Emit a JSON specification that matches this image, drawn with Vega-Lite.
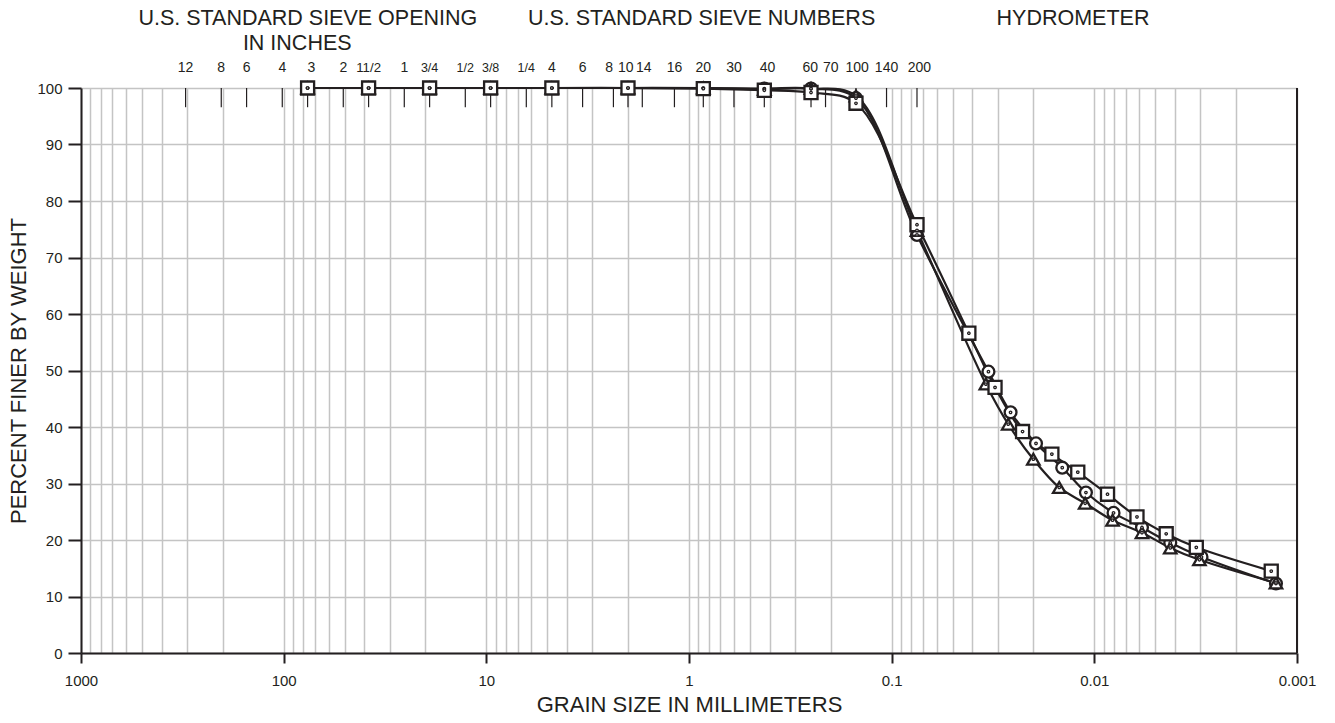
{
  "$schema": "https://vega.github.io/schema/vega-lite/v6.json",
  "width": 1216,
  "height": 565,
  "autosize": {"type": "none"},
  "padding": {"left": 81, "top": 88, "right": 38, "bottom": 70},
  "background": "white",
  "config": {"font": "Liberation Sans", "view": {"stroke": null}},
  "resolve": {"scale": {"size": "independent", "shape": "independent"}},
  "datasets": {
    "series": [
      {"s": "A", "d": 76.2, "p": 100}, {"s": "A", "d": 38.1, "p": 100}, {"s": "A", "d": 19.05, "p": 100}, {"s": "A", "d": 9.525, "p": 100}, {"s": "A", "d": 4.75, "p": 100}, {"s": "A", "d": 2.0, "p": 100}, {"s": "A", "d": 0.85, "p": 100}, {"s": "A", "d": 0.425, "p": 99.9}, {"s": "A", "d": 0.25, "p": 99.9}, {"s": "A", "d": 0.15, "p": 98.2}, {"s": "A", "d": 0.075, "p": 74.0},
      {"s": "A", "d": 0.0333, "p": 49.8}, {"s": "A", "d": 0.0259, "p": 42.6}, {"s": "A", "d": 0.0194, "p": 37.1}, {"s": "A", "d": 0.0144, "p": 32.8}, {"s": "A", "d": 0.011, "p": 28.4}, {"s": "A", "d": 0.00804, "p": 24.8}, {"s": "A", "d": 0.00582, "p": 22.2}, {"s": "A", "d": 0.00422, "p": 19.5}, {"s": "A", "d": 0.00296, "p": 17.0}, {"s": "A", "d": 0.00127, "p": 12.3},
      {"s": "B", "d": 76.2, "p": 100}, {"s": "B", "d": 38.1, "p": 100}, {"s": "B", "d": 19.05, "p": 100}, {"s": "B", "d": 9.525, "p": 100}, {"s": "B", "d": 4.75, "p": 100}, {"s": "B", "d": 2.0, "p": 100}, {"s": "B", "d": 0.85, "p": 100}, {"s": "B", "d": 0.425, "p": 99.8}, {"s": "B", "d": 0.25, "p": 99.9}, {"s": "B", "d": 0.15, "p": 98.6}, {"s": "B", "d": 0.075, "p": 74.8},
      {"s": "B", "d": 0.0343, "p": 47.6}, {"s": "B", "d": 0.0266, "p": 40.5}, {"s": "B", "d": 0.02, "p": 34.3}, {"s": "B", "d": 0.0149, "p": 29.3}, {"s": "B", "d": 0.0111, "p": 26.5}, {"s": "B", "d": 0.00813, "p": 23.5}, {"s": "B", "d": 0.00582, "p": 21.3}, {"s": "B", "d": 0.00422, "p": 18.6}, {"s": "B", "d": 0.00303, "p": 16.5}, {"s": "B", "d": 0.00127, "p": 12.4},
      {"s": "C", "d": 76.2, "p": 100}, {"s": "C", "d": 38.1, "p": 100}, {"s": "C", "d": 19.05, "p": 100}, {"s": "C", "d": 9.525, "p": 100}, {"s": "C", "d": 4.75, "p": 100}, {"s": "C", "d": 2.0, "p": 100}, {"s": "C", "d": 0.85, "p": 99.9}, {"s": "C", "d": 0.425, "p": 99.6}, {"s": "C", "d": 0.25, "p": 99.2}, {"s": "C", "d": 0.15, "p": 97.3}, {"s": "C", "d": 0.075, "p": 75.8},
      {"s": "C", "d": 0.0416, "p": 56.6}, {"s": "C", "d": 0.0309, "p": 47.0}, {"s": "C", "d": 0.0226, "p": 39.2}, {"s": "C", "d": 0.0162, "p": 35.2}, {"s": "C", "d": 0.01207, "p": 32.0}, {"s": "C", "d": 0.00861, "p": 28.1}, {"s": "C", "d": 0.00616, "p": 24.1}, {"s": "C", "d": 0.00442, "p": 21.1}, {"s": "C", "d": 0.00314, "p": 18.7}, {"s": "C", "d": 0.00134, "p": 14.5}
    ],
    "sieves": [
      {"d": 304.8, "ld": 304.8, "label": "12", "kind": "whole"},
      {"d": 203.2, "ld": 203.2, "label": "8", "kind": "whole"},
      {"d": 152.4, "ld": 152.4, "label": "6", "kind": "whole"},
      {"d": 101.6, "ld": 101.6, "label": "4", "kind": "whole"},
      {"d": 76.2, "ld": 73, "label": "3", "kind": "whole"},
      {"d": 50.8, "ld": 50.8, "label": "2", "kind": "whole"},
      {"d": 38.1, "ld": 38.1, "label": "11/2", "kind": "mixed"},
      {"d": 25.4, "ld": 25.4, "label": "1", "kind": "whole"},
      {"d": 19.05, "ld": 19.05, "label": "3/4", "kind": "fraction"},
      {"d": 12.7, "ld": 12.7, "label": "1/2", "kind": "fraction"},
      {"d": 9.525, "ld": 9.525, "label": "3/8", "kind": "fraction"},
      {"d": 6.35, "ld": 6.35, "label": "1/4", "kind": "fraction"},
      {"d": 4.75, "ld": 4.75, "label": "4", "kind": "whole"},
      {"d": 3.35, "ld": 3.35, "label": "6", "kind": "whole"},
      {"d": 2.36, "ld": 2.48, "label": "8", "kind": "whole"},
      {"d": 2.0, "ld": 2.05, "label": "10", "kind": "whole"},
      {"d": 1.7, "ld": 1.67, "label": "14", "kind": "whole"},
      {"d": 1.18, "ld": 1.18, "label": "16", "kind": "whole"},
      {"d": 0.85, "ld": 0.85, "label": "20", "kind": "whole"},
      {"d": 0.6, "ld": 0.6, "label": "30", "kind": "whole"},
      {"d": 0.425, "ld": 0.41, "label": "40", "kind": "whole"},
      {"d": 0.25, "ld": 0.252, "label": "60", "kind": "whole"},
      {"d": 0.212, "ld": 0.2, "label": "70", "kind": "whole"},
      {"d": 0.15, "ld": 0.148, "label": "100", "kind": "whole"},
      {"d": 0.106, "ld": 0.106, "label": "140", "kind": "whole"},
      {"d": 0.075, "ld": 0.073, "label": "200", "kind": "whole"}
    ]
  },
  "layer": [
    {
      "data": {"name": "sieves"},
      "mark": {"type": "rule", "color": "#231f20", "strokeWidth": 1.2},
      "encoding": {
        "x": {
          "field": "d",
          "type": "quantitative",
          "scale": {"type": "log", "domain": [0.001, 1000], "reverse": true},
          "axis": {
            "title": "GRAIN SIZE IN MILLIMETERS",
            "values": [1000, 900, 800, 700, 600, 500, 400, 300, 200, 100, 90, 80, 70, 60, 50, 40, 30, 20, 10, 9, 8, 7, 6, 5, 4, 3, 2, 1, 0.9, 0.8, 0.7, 0.6, 0.5, 0.4, 0.3, 0.2, 0.1, 0.09, 0.08, 0.07, 0.06, 0.05, 0.04, 0.03, 0.02, 0.01, 0.009, 0.008, 0.007, 0.006, 0.005, 0.004, 0.003, 0.002, 0.001],
            "format": "~g",
            "labelExpr": "abs(log(datum.value)/LN10 - round(log(datum.value)/LN10)) < 0.001 ? datum.label : ''",
            "tickOpacity": {"condition": {"test": "abs(log(datum.value)/LN10 - round(log(datum.value)/LN10)) < 0.001", "value": 1}, "value": 0},
            "labelOverlap": false,
            "labelFlush": false,
            "grid": true,
            "gridColor": "#c4c4c4",
            "gridWidth": 1.5,
            "gridOpacity": 1,
            "domainColor": "#231f20",
            "domainWidth": 2,
            "tickColor": "#231f20",
            "tickWidth": 2,
            "tickSize": 10,
            "labelFontSize": 15,
            "labelColor": "#231f20",
            "labelPadding": 10,
            "titleFontSize": 22,
            "titleFontWeight": "normal",
            "titleColor": "#231f20",
            "titlePadding": 6
          }
        },
        "y": {
          "datum": 96.6,
          "type": "quantitative",
          "scale": {"domain": [0, 100], "nice": false},
          "axis": {
            "title": "PERCENT FINER BY WEIGHT",
            "values": [0, 10, 20, 30, 40, 50, 60, 70, 80, 90, 100],
            "grid": true,
            "gridColor": "#c4c4c4",
            "gridWidth": 1.5,
            "gridOpacity": 1,
            "domainColor": "#231f20",
            "domainWidth": 2,
            "tickColor": "#231f20",
            "tickWidth": 2,
            "tickSize": 13,
            "labelFontSize": 15,
            "labelColor": "#231f20",
            "labelPadding": 6,
            "titleFontSize": 22,
            "titleFontWeight": "normal",
            "titleColor": "#231f20",
            "titlePadding": 6
          }
        },
        "y2": {"datum": 100}
      }
    },
    {
      "data": {"values": [{"d": 0.001}]},
      "mark": {"type": "rule", "color": "#231f20", "strokeWidth": 2},
      "encoding": {
        "x": {"field": "d", "type": "quantitative"},
        "y": {"datum": 0, "type": "quantitative"},
        "y2": {"datum": 100}
      }
    },
    {
      "data": {"name": "sieves"},
      "mark": {"type": "text", "color": "#231f20", "baseline": "middle", "align": "center"},
      "encoding": {
        "x": {"field": "ld", "type": "quantitative"},
        "y": {"datum": 103.6, "type": "quantitative"},
        "text": {"field": "label"},
        "size": {"field": "kind", "type": "ordinal", "scale": {"domain": ["whole", "mixed", "fraction"], "range": [14, 12.5, 11]}, "legend": null}
      }
    },
    {
      "data": {"values": [
        {"h": "U.S. STANDARD SIEVE OPENING", "d": 76},
        {"h": "U.S. STANDARD SIEVE NUMBERS", "d": 0.8665},
        {"h": "HYDROMETER", "d": 0.01274}
      ]},
      "mark": {"type": "text", "color": "#231f20", "baseline": "middle", "align": "center", "fontSize": 21.5},
      "encoding": {
        "x": {"field": "d", "type": "quantitative"},
        "y": {"datum": 112.3, "type": "quantitative"},
        "text": {"field": "h"}
      }
    },
    {
      "data": {"values": [{"h": "IN INCHES", "d": 85.7}]},
      "mark": {"type": "text", "color": "#231f20", "baseline": "middle", "align": "center", "fontSize": 21.5},
      "encoding": {
        "x": {"field": "d", "type": "quantitative"},
        "y": {"datum": 107.75, "type": "quantitative"},
        "text": {"field": "h"}
      }
    },
    {
      "data": {"name": "series"},
      "mark": {"type": "line", "color": "#231f20", "strokeWidth": 2.2, "interpolate": "catmull-rom"},
      "encoding": {
        "x": {"field": "d", "type": "quantitative"},
        "y": {"field": "p", "type": "quantitative"},
        "detail": {"field": "s"},
        "order": {"field": "d", "sort": "descending"}
      }
    },
    {
      "data": {"name": "series"},
      "mark": {"type": "point", "filled": true, "fill": "white", "stroke": "#231f20", "strokeWidth": 2.3, "opacity": 1},
      "encoding": {
        "x": {"field": "d", "type": "quantitative"},
        "y": {"field": "p", "type": "quantitative"},
        "shape": {"field": "s", "type": "nominal", "scale": {"domain": ["A", "B", "C"], "range": ["circle", "triangle-up", "square"]}, "legend": null},
        "size": {"field": "s", "type": "ordinal", "scale": {"domain": ["A", "B", "C"], "range": [140, 170, 125]}, "legend": null}
      }
    },
    {
      "data": {"name": "series"},
      "mark": {"type": "point", "shape": "circle", "size": 6, "filled": true, "fill": "white", "stroke": "#231f20", "strokeWidth": 1.3, "opacity": 1},
      "encoding": {
        "x": {"field": "d", "type": "quantitative"},
        "y": {"field": "p", "type": "quantitative"}
      }
    }
  ]
}
